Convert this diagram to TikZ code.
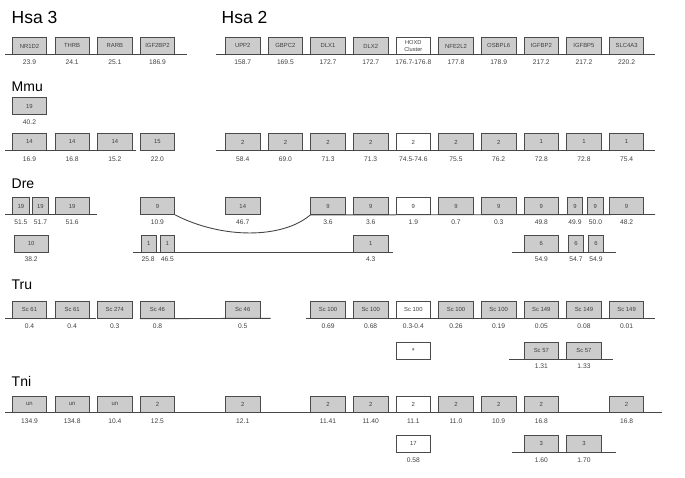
\documentclass[tikz,border=0pt]{standalone}
\usepackage{fontspec}
\setmainfont{Liberation Sans}
\definecolor{boxfill}{RGB}{204,204,204}
\definecolor{edge}{RGB}{75,75,75}
\definecolor{axis}{RGB}{70,70,70}
\tikzset{
  gbox/.style={rectangle, fill=boxfill, draw=edge, line width=0.8pt, minimum width=34.5pt, minimum height=16.7pt, inner sep=0pt, font=\fontsize{5.9}{6.5}\selectfont, text=black!75},
  wbox/.style={gbox, fill=white},
  sbox/.style={gbox, minimum width=15.5pt},
  lab/.style={inner sep=0pt, font=\fontsize{6.7}{7.5}\selectfont, text=black!75},
  ttl/.style={anchor=west, inner sep=0pt, font=\fontsize{14}{16}\selectfont},
  bigttl/.style={anchor=west, inner sep=0pt, font=\fontsize{17.5}{20}\selectfont},
  chrom/.style={draw=axis, line width=0.9pt},
}
\begin{document}
\begin{tikzpicture}[x=1pt,y=-1pt]
\useasboundingbox (0,0) rectangle (685,478);
% titles
\node[bigttl] (thsa3) at (11.5,17) {Hsa 3};
\node[bigttl] (thsa2) at (221.5,17) {Hsa 2};
\node[ttl] (tmmu) at (11.5,86.7) {Mmu};
\node[ttl] (tdre) at (11.5,183.3) {Dre};
\node[ttl] (ttru) at (11.5,285) {Tru};
\node[ttl] (ttni) at (11.5,381) {Tni};
% ---------- Hsa ----------
\foreach \i/\t/\v in {0/NR1D2/23.9,1/THRB/24.1,2/RARB/25.1,3/IGF2BP2/186.9,5/UPP2/158.7,6/GBPC2/169.5,7/DLX1/172.7,8/DLX2/172.7,10/NFE2L2/177.8,11/OSBPL6/178.9,12/IGFBP2/217.2,13/IGFBP5/217.2,14/SLC4A3/220.2}{
  \node[gbox] (h\i) at ({29.5+42.65*\i},45.95) {\t};
  \node[lab] (hl\i) at ({29.5+42.65*\i},62) {\v};
}
\node[wbox, align=center, font=\fontsize{5.7}{6.5}\selectfont] (h9) at ({29.5+42.65*9},45.95) {HOXD\\Cluster};
\node[lab] (hl9) at ({29.5+42.65*9},62) {176.7-176.8};
\coordinate (ha1) at (5,54.3); \coordinate (ha2) at (187,54.3);
\coordinate (hb1) at (216,54.3); \coordinate (hb2) at (655,54.3);
\draw[chrom] (ha1) -- (ha2);
\draw[chrom] (hb1) -- (hb2);
% ---------- Mmu ----------
\node[gbox] (m19) at (29.5,106) {19};
\node[lab] (ml19) at (29.5,121.7) {40.2};
\foreach \i/\t/\v in {0/14/16.9,1/14/16.8,2/14/15.2,3/15/22.0,5/2/58.4,6/2/69.0,7/2/71.3,8/2/71.3,10/2/75.5,11/2/76.2,12/1/72.8,13/1/72.8,14/1/75.4}{
  \node[gbox] (m\i) at ({29.5+42.65*\i},141.95) {\t};
  \node[lab] (ml\i) at ({29.5+42.65*\i},159.3) {\v};
}
\node[wbox] (m9) at ({29.5+42.65*9},141.95) {2};
\node[lab] (ml9) at ({29.5+42.65*9},159.3) {74.5-74.6};
\coordinate (ma1) at (5,150.3); \coordinate (ma2) at (136,150.3);
\coordinate (mb1) at (216,150.3); \coordinate (mb2) at (655,150.3);
\draw[chrom] (ma1) -- (ma2);
\draw[chrom] (mb1) -- (mb2);
% ---------- Dre row 1 ----------
\node[sbox, minimum width=17pt] (d0a) at (20.8,206.15) {19};
\node[lab] (dl0a) at (20.8,222) {51.5};
\node[sbox, minimum width=16.4pt] (d0b) at (40.5,206.15) {19};
\node[lab] (dl0b) at (40.5,222) {51.7};
\node[gbox] (d1) at (72.15,206.15) {19};
\node[lab] (dl1) at (72.15,222) {51.6};
\node[gbox] (d3) at (157.45,206.15) {9};
\node[lab] (dl3) at (157.45,222) {10.9};
\node[gbox] (d5) at (242.75,206.15) {14};
\node[lab] (dl5) at (242.75,222) {46.7};
\foreach \i/\t/\v in {7/9/3.6,8/9/3.6,10/9/0.7,11/9/0.3,12/9/49.8,14/9/48.2}{
  \node[gbox] (d\i) at ({29.5+42.65*\i},206.15) {\t};
  \node[lab] (dl\i) at ({29.5+42.65*\i},222) {\v};
}
\node[wbox] (d9) at ({29.5+42.65*9},206.15) {9};
\node[lab] (dl9) at ({29.5+42.65*9},222) {1.9};
\node[sbox] (d13a) at (575,206.15) {9};
\node[lab] (dl13a) at (575,222) {49.9};
\node[sbox, minimum width=16pt] (d13b) at (595.3,206.15) {9};
\node[lab] (dl13b) at (595.5,222) {50.0};
\coordinate (da1) at (5,214.5); \coordinate (da2) at (96.7,214.5);
\coordinate (db2) at (655,214.5);
\draw[chrom] (da1) -- (da2);
\draw[chrom] (d3.south east) .. controls (222,239) and (282,239) .. (d7.south west);
\draw[chrom] (d7.south west) -- (db2);
% ---------- Dre row 2 ----------
\node[gbox] (e0) at (31.2,243.95) {10};
\node[lab] (el0) at (31.2,259.5) {38.2};
\node[sbox, minimum width=14.7pt] (e3a) at (148.7,243.95) {1};
\node[lab] (el3a) at (148.2,259.5) {25.8};
\node[sbox, minimum width=14.7pt] (e3b) at (167.3,243.95) {1};
\node[lab] (el3b) at (167.3,259.5) {46.5};
\node[gbox] (e8) at (370.7,243.95) {1};
\node[lab] (el8) at (370.7,259.5) {4.3};
\node[gbox] (e12) at (541.3,243.95) {6};
\node[lab] (el12) at (541.3,259.5) {54.9};
\node[sbox] (e13a) at (576,243.95) {6};
\node[lab] (el13a) at (576,259.5) {54.7};
\node[sbox] (e13b) at (596,243.95) {6};
\node[lab] (el13b) at (596,259.5) {54.9};
\coordinate (ea1) at (132.7,252.3); \coordinate (ea2) at (393.3,252.3);
\coordinate (eb1) at (511.7,252.3); \coordinate (eb2) at (616,252.3);
\draw[chrom] (ea1) -- (ea2);
\draw[chrom] (eb1) -- (eb2);
% ---------- Tru row 1 ----------
\foreach \i/\t/\v in {0/Sc 61/0.4,1/Sc 61/0.4,2/Sc 274/0.3,3/Sc 46/0.8,5/Sc 46/0.5,7/Sc 100/0.69,8/Sc 100/0.68,10/Sc 100/0.26,11/Sc 100/0.19,12/Sc 149/0.05,13/Sc 149/0.08,14/Sc 149/0.01}{
  \node[gbox] (t\i) at ({29.5+42.65*\i},309.95) {\t};
  \node[lab] (tl\i) at ({29.5+42.65*\i},325.7) {\v};
}
\node[wbox] (t9) at ({29.5+42.65*9},309.95) {Sc 100};
\node[lab] (tl9) at ({29.5+42.65*9},325.7) {0.3-0.4};
\coordinate (ta1) at (5,318.3); \coordinate (ta2) at (96,318.3);
\coordinate (tc2) at (270.7,318.3);
\coordinate (td1) at (306,318.3); \coordinate (td2) at (655,318.3);
\draw[chrom] (ta1) -- (ta2);
\draw[chrom] (t3.south west) -- (tc2);
\draw[chrom] (td1) -- (td2);
% ---------- Tru row 2 ----------
\node[wbox, font=\fontsize{7.5}{8}\selectfont] (u9) at ({29.5+42.65*9},350.95) {*};
\node[gbox] (u12) at (541.3,350.95) {Sc 57};
\node[lab] (ul12) at (541.3,366) {1.31};
\node[gbox] (u13) at (583.95,350.95) {Sc 57};
\node[lab] (ul13) at (583.95,366) {1.33};
\coordinate (ua1) at (509,359.3); \coordinate (ua2) at (613.3,359.3);
\draw[chrom] (ua1) -- (ua2);
% ---------- Tni row 1 ----------
\foreach \i/\t/\v in {0/un/134.9,1/un/134.8,2/un/10.4,3/2/12.5,5/2/12.1,7/2/11.41,8/2/11.40,10/2/11.0,11/2/10.9,12/2/16.8,14/2/16.8}{
  \node[gbox] (n\i) at ({29.5+42.65*\i},404.35) {\t};
  \node[lab] (nl\i) at ({29.5+42.65*\i},421) {\v};
}
\node[wbox] (n9) at ({29.5+42.65*9},404.35) {2};
\node[lab] (nl9) at ({29.5+42.65*9},421) {11.1};
\coordinate (na1) at (5,412.7); \coordinate (na2) at (661.7,412.7);
\draw[chrom] (na1) -- (na2);
% ---------- Tni row 2 ----------
\node[wbox] (o9) at ({29.5+42.65*9},443.95) {17};
\node[lab] (ol9) at ({29.5+42.65*9},460) {0.58};
\node[gbox] (o12) at (541.3,443.95) {3};
\node[lab] (ol12) at (541.3,460) {1.60};
\node[gbox] (o13) at (583.95,443.95) {3};
\node[lab] (ol13) at (583.95,460) {1.70};
\coordinate (oa1) at (511.7,452.3); \coordinate (oa2) at (616,452.3);
\draw[chrom] (oa1) -- (oa2);
\end{tikzpicture}
\end{document}
